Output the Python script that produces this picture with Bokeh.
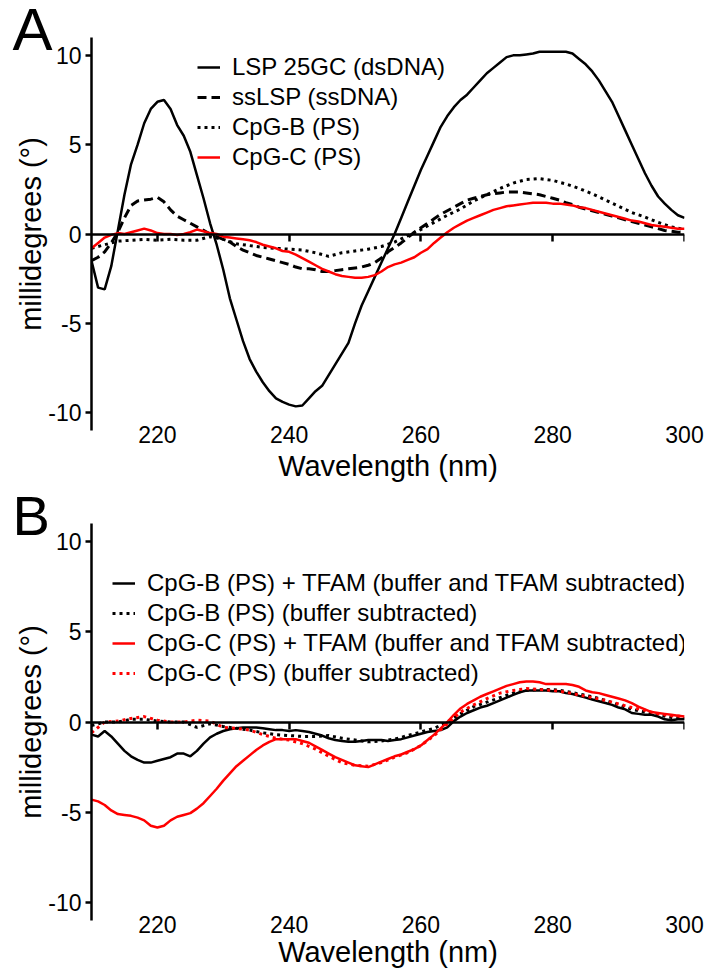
from bokeh.plotting import figure
from bokeh.models import LinearAxis, FixedTicker, Title, Range1d
from bokeh.layouts import column
from bokeh.embed import file_html
from bokeh.resources import INLINE

FONT = "Liberation Sans"

# ---------------- data ----------------
X_TICKS = [220, 240, 260, 280, 300]
Y_TICKS = [-10, -5, 0, 5, 10]
Y_TICK_LABELS = ["-10", "-5", "0", "5", "10"]

WL = list(range(210, 301))  # 1 nm grid
WL2 = list(range(210, 301, 2))  # 2 nm grid

# Panel A
lsp_25gc = [-1.5, -3.0, -3.1, -1.8, 0.2, 2.2, 3.9, 5.0, 6.2, 7.0, 7.4, 7.5, 7.0, 6.1, 5.5, 4.6, 3.3, 2.0, 0.6, -0.6,
            -2.0, -3.6, -4.8, -6.0, -7.0, -7.7, -8.3, -8.8, -9.2, -9.4, -9.55, -9.65, -9.6, -9.2, -8.8, -8.5, -7.9, -7.3, -6.7, -6.1,
            -5.0, -4.0, -3.2, -2.4, -1.6, -0.8, 0.0, 0.9, 1.8, 2.7, 3.6, 4.4, 5.2, 6.0, 6.6, 7.1, 7.5, 7.8, 8.2, 8.6,
            9.0, 9.3, 9.6, 9.9, 10.0, 10.0, 10.05, 10.1, 10.2, 10.2, 10.2, 10.2, 10.2, 10.1, 9.8, 9.5, 9.1, 8.6, 8.0, 7.4,
            6.6, 5.8, 5.0, 4.2, 3.4, 2.7, 2.1, 1.7, 1.35, 1.05, 0.9]
sslsp = [-1.5, -1.3, -1.0, -0.5, 0.1, 0.9, 1.6, 1.85, 1.9, 1.95, 2.05, 1.8, 1.35, 1.0, 0.8, 0.6, 0.4, 0.2, 0.0, -0.15,
         -0.3, -0.45, -0.7, -0.9, -1.05, -1.2, -1.3, -1.4, -1.5, -1.6, -1.7, -1.85, -1.95, -1.95, -2.0, -2.1, -2.1, -2.05, -2.0, -1.95,
         -1.9, -1.85, -1.75, -1.6, -1.35, -1.0, -0.75, -0.5, -0.2, 0.1, 0.35, 0.6, 0.85, 1.1, 1.3, 1.5, 1.7, 1.9, 2.0, 2.1,
         2.2, 2.25, 2.3, 2.35, 2.35, 2.35, 2.3, 2.25, 2.2, 2.1, 2.0, 1.9, 1.75, 1.65, 1.5, 1.4, 1.3, 1.2, 1.1, 1.0,
         0.9, 0.8, 0.7, 0.6, 0.5, 0.4, 0.3, 0.2, 0.15, 0.1, 0.1]
cpgb_a = [-0.8, -0.6, -0.4, -0.35, -0.3, -0.35, -0.3, -0.35, -0.35, -0.15, -0.3, -0.55, -0.65, -0.75, -0.8, -0.85, -0.9, -1.05,
          -1.25, -1.05, -0.95, -0.85, -0.7, -0.45, -0.1, 0.25, 0.65, 1.05, 1.4, 1.85, 2.2, 2.55, 2.85, 3.05, 3.1, 3.0, 2.8,
          2.55, 2.25, 1.9, 1.55, 1.2, 0.95, 0.65, 0.4, 0.25]
cpgc_a = [-0.8, -0.5, -0.2, -0.05, 0.05, 0.0, 0.1, 0.2, 0.3, 0.2, 0.05, 0.0, 0.0, -0.05, 0.0, 0.1, 0.25, 0.15, 0.05, 0.0,
          -0.15, -0.2, -0.25, -0.3, -0.35, -0.45, -0.6, -0.7, -0.8, -0.95, -1.0, -1.15, -1.35, -1.55, -1.75, -1.95, -2.1, -2.25, -2.35, -2.4,
          -2.45, -2.45, -2.4, -2.3, -2.1, -1.85, -1.7, -1.6, -1.45, -1.3, -1.05, -0.85, -0.5, -0.2, 0.1, 0.35, 0.55, 0.75, 0.9, 1.05,
          1.2, 1.35, 1.45, 1.55, 1.6, 1.65, 1.7, 1.75, 1.75, 1.75, 1.7, 1.7, 1.65, 1.6, 1.5, 1.45, 1.35, 1.25, 1.15, 1.05,
          0.95, 0.85, 0.75, 0.7, 0.6, 0.5, 0.45, 0.4, 0.35, 0.3, 0.3]

# Panel B
cpgb_tfam = [-0.7, -0.8, -0.5, -0.8, -1.2, -1.6, -1.9, -2.1, -2.25, -2.25, -2.15, -2.05, -1.95, -1.75, -1.75, -1.9, -1.6, -1.2, -0.85, -0.65,
             -0.5, -0.4, -0.35, -0.3, -0.3, -0.3, -0.35, -0.4, -0.45, -0.45, -0.5, -0.45, -0.5, -0.55, -0.65, -0.75, -0.9, -1.0, -1.05, -1.1,
             -1.1, -1.05, -1.0, -1.0, -1.0, -1.05, -1.0, -0.95, -0.85, -0.75, -0.65, -0.55, -0.5, -0.45, -0.3, 0.05, 0.3, 0.5, 0.65, 0.8,
             0.9, 1.05, 1.2, 1.35, 1.5, 1.65, 1.75, 1.75, 1.75, 1.75, 1.7, 1.7, 1.6, 1.55, 1.45, 1.35, 1.25, 1.15, 1.05, 0.95,
             0.8, 0.7, 0.5, 0.45, 0.4, 0.4, 0.3, 0.15, 0.1, 0.15, 0.15]
cpgb_buf = [-0.2, 0.0, 0.0, 0.15, 0.15, 0.05, 0.0, 0.0, -0.3, -0.1, -0.25, -0.35, -0.45, -0.6, -0.7, -0.75, -0.8, -0.8,
            -0.75, -0.9, -1.0, -1.1, -1.05, -0.95, -0.75, -0.55, -0.35, 0.0, 0.45, 0.85, 1.1, 1.35, 1.6, 1.75, 1.8, 1.8, 1.7,
            1.55, 1.4, 1.2, 0.95, 0.7, 0.55, 0.4, 0.25, 0.2]
cpgc_tfam = [-4.3, -4.4, -4.6, -4.9, -5.1, -5.15, -5.2, -5.3, -5.45, -5.75, -5.85, -5.75, -5.45, -5.25, -5.15, -5.05, -4.8, -4.5, -4.1, -3.7,
             -3.25, -2.85, -2.45, -2.15, -1.85, -1.55, -1.3, -1.1, -0.95, -0.95, -0.95, -0.95, -1.05, -1.15, -1.35, -1.55, -1.75, -1.95, -2.1, -2.25,
             -2.4, -2.45, -2.5, -2.35, -2.2, -2.05, -1.9, -1.8, -1.65, -1.5, -1.3, -1.0, -0.7, -0.35, 0.0, 0.4, 0.75, 1.0, 1.2, 1.4,
             1.55, 1.7, 1.85, 2.0, 2.1, 2.2, 2.25, 2.25, 2.2, 2.1, 2.1, 2.1, 2.1, 2.05, 1.95, 1.75, 1.65, 1.6, 1.5, 1.4,
             1.3, 1.2, 1.05, 0.85, 0.7, 0.55, 0.5, 0.45, 0.4, 0.35, 0.3]
cpgc_buf = [-0.6, 0.0, 0.05, 0.2, 0.3, 0.1, 0.0, 0.0, 0.1, 0.05, -0.3, -0.35, -0.45, -0.7, -0.9, -1.0, -1.2, -1.5,
            -1.9, -2.25, -2.4, -2.45, -2.25, -1.95, -1.7, -1.3, -0.75, -0.1, 0.55, 0.95, 1.3, 1.6, 1.75, 1.85, 1.8, 1.75, 1.65,
            1.5, 1.35, 1.2, 1.0, 0.8, 0.65, 0.45, 0.35, 0.3]

SERIES_A = [
    ("LSP 25GC (dsDNA)", WL, lsp_25gc, "black", None),
    ("ssLSP (ssDNA)", WL, sslsp, "black", "9 5"),
    ("CpG-B (PS)", WL2, cpgb_a, "black", "3 4"),
    ("CpG-C (PS)", WL, cpgc_a, "red", None),
]
SERIES_B = [
    ("CpG-B (PS) + TFAM (buffer and TFAM subtracted)", WL, cpgb_tfam, "black", None),
    ("CpG-B (PS) (buffer subtracted)", WL2, cpgb_buf, "black", "3 4"),
    ("CpG-C (PS) + TFAM (buffer and TFAM subtracted)", WL, cpgc_tfam, "red", None),
    ("CpG-C (PS) (buffer subtracted)", WL2, cpgc_buf, "red", "3 4"),
]


def make_panel(letter, letter_size, letter_standoff, series, fh, bt, bb, legend_loc, xlabel_standoff):
    p = figure(frame_width=593, frame_height=fh,
               x_range=Range1d(210, 300), y_range=Range1d(-11, 11),
               output_backend="svg", toolbar_location=None,
               x_axis_location=None, y_axis_location=None,
               min_border_left=91, min_border_right=23, min_border_top=bt,
               min_border_bottom=bb, outline_line_color=None,
               background_fill_color="white", border_fill_color="white")
    p.grid.visible = False

    # y axis
    ya = LinearAxis(ticker=FixedTicker(ticks=Y_TICKS, minor_ticks=[]),
                    major_label_overrides={t: l for t, l in zip(Y_TICKS, Y_TICK_LABELS)},
                    axis_label="millidegrees (°)")
    ya.axis_line_width = 2.5
    ya.major_tick_line_width = 2.5
    ya.major_tick_out = 6
    ya.major_tick_in = 0
    ya.minor_tick_line_color = None
    ya.major_label_text_font = FONT
    ya.major_label_text_font_size = "23px"
    ya.major_label_text_color = "black"
    ya.major_label_standoff = 4
    ya.axis_label_text_font = FONT
    ya.axis_label_text_font_size = "29px"
    ya.axis_label_text_font_style = "normal"
    ya.axis_label_text_color = "black"
    ya.axis_label_standoff = -2
    p.add_layout(ya, "left")

    # zero line axis with downward ticks (no labels drawn)
    za = LinearAxis(ticker=FixedTicker(ticks=X_TICKS, minor_ticks=[]), fixed_location=0)
    za.axis_line_width = 2.5
    za.major_tick_line_width = 2.5
    za.major_tick_in = 7
    za.major_tick_out = 0
    za.minor_tick_line_color = None
    za.major_label_text_font_size = "2px"
    za.major_label_text_color = None
    za.major_label_standoff = 0
    p.add_layout(za, "above")

    # bottom labels axis
    xa = LinearAxis(ticker=FixedTicker(ticks=X_TICKS, minor_ticks=[]),
                    axis_label="Wavelength (nm)")
    xa.axis_line_color = None
    xa.major_tick_line_color = None
    xa.minor_tick_line_color = None
    xa.major_tick_in = 0
    xa.major_tick_out = 0
    xa.major_label_standoff = -5
    xa.major_label_text_font = FONT
    xa.major_label_text_font_size = "23px"
    xa.major_label_text_color = "black"
    xa.axis_label_text_font = FONT
    xa.axis_label_text_font_size = "29px"
    xa.axis_label_text_font_style = "normal"
    xa.axis_label_text_color = "black"
    xa.axis_label_standoff = xlabel_standoff
    p.add_layout(xa, "below")

    # panel letter
    p.add_layout(Title(text=letter, align="left", offset=-79, standoff=letter_standoff,
                       vertical_align="bottom", text_font=FONT, text_font_size=letter_size,
                       text_font_style="normal", text_color="black"), "above")

    for name, xs, ys, color, dash in series:
        kw = dict(line_color=color, line_width=2.5, legend_label=name)
        if dash is not None:
            kw["line_dash"] = dash
            kw["line_width"] = 3
        p.line(xs, ys, **kw)

    lg = p.legend[0]
    lg.location = legend_loc
    lg.padding = 0
    lg.margin = 0
    lg.spacing = 0
    lg.border_line_color = None
    lg.background_fill_alpha = 0
    lg.glyph_width = 23
    lg.glyph_height = 30
    lg.label_height = 30
    lg.label_standoff = 12
    lg.label_text_font = FONT
    lg.label_text_font_size = "24px"
    lg.label_text_color = "black"
    return p


pA = make_panel("A", "60px", -50, SERIES_A, fh=393, bt=37, bb=58, legend_loc=(106, 258), xlabel_standoff=4)
pB = make_panel("B", "56px", -47, SERIES_B, fh=397, bt=35, bb=54, legend_loc=(21, 232), xlabel_standoff=0)

layout = column(pA, pB, spacing=0)
open("out.html", "w").write(file_html(layout, INLINE))
